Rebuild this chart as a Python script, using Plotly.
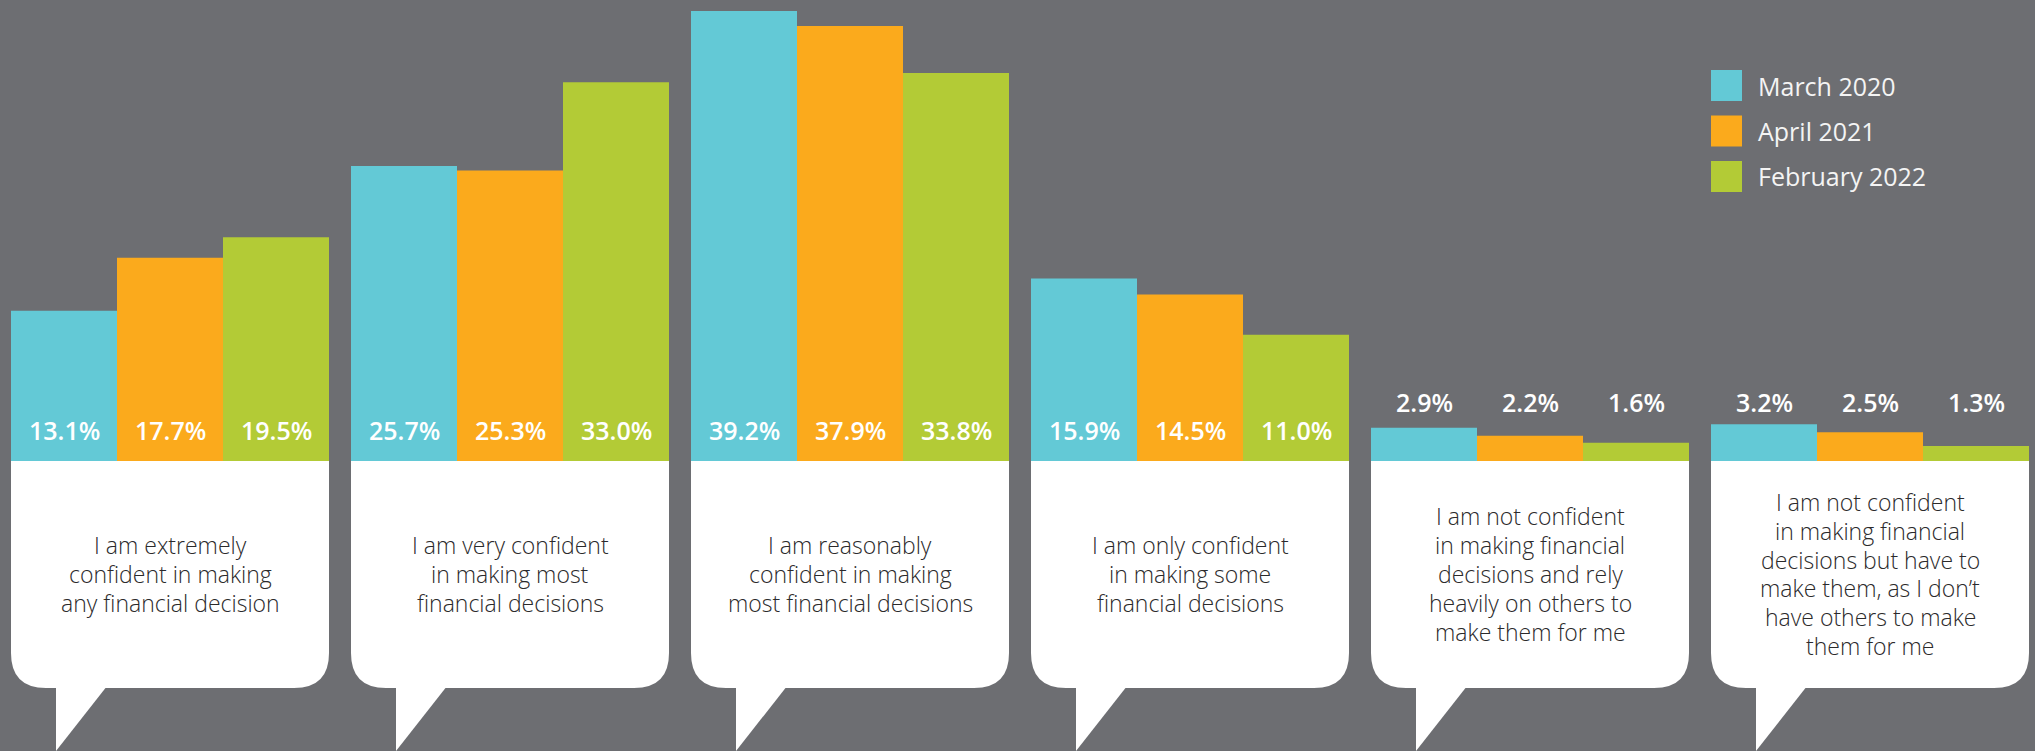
import plotly.graph_objects as go

# Survey responses: confidence in making financial decisions
categories = [
    "I am extremely<br>confident in making<br>any financial decision",
    "I am very confident<br>in making most<br>financial decisions",
    "I am reasonably<br>confident in making<br>most financial decisions",
    "I am only confident<br>in making some<br>financial decisions",
    "I am not confident<br>in making financial<br>decisions and rely<br>heavily on others to<br>make them for me",
    "I am not confident<br>in making financial<br>decisions but have to<br>make them, as I don\u2019t<br>have others to make<br>them for me",
]
series_names = ["March 2020", "April 2021", "February 2022"]
march_2020 = [13.1, 25.7, 39.2, 15.9, 2.9, 3.2]
april_2021 = [17.7, 25.3, 37.9, 14.5, 2.2, 2.5]
february_2022 = [19.5, 33.0, 33.8, 11.0, 1.6, 1.3]
series_values = [march_2020, april_2021, february_2022]

colors = ["#63c9d6", "#fbaa1c", "#b3cb36"]
BG = "#6d6e72"
W, H = 2035, 751
GROUP_PX = 340.0          # horizontal pitch of one category
BAR_GAP = 22.0 / GROUP_PX
BAR_W = (1 - BAR_GAP) / 3
X_RANGE = [-0.5, -0.5 + W / GROUP_PX]
Y_RANGE = [-25.26, 40.16]
PX_PER_Y = H / (Y_RANGE[1] - Y_RANGE[0])

def px_y(px):
    """Convert a pixel height to y-axis units."""
    return px / PX_PER_Y

def px_x(px):
    return px / GROUP_PX

FONT = "Open Sans"
LINE_PX = 28.8
idx = list(range(len(categories)))

fig = go.Figure()
for name, vals, col in zip(series_names, series_values, colors):
    fig.add_trace(go.Bar(
        x=idx, y=vals, name=name, marker=dict(color=col, line=dict(width=0)),
        showlegend=False, hoverinfo="skip",
    ))

shapes = []
annotations = []

# Speech bubbles under each group
half = (1 - BAR_GAP) / 2
bottom = -px_y(227)
rx, ry = px_x(35), px_y(35)
for i, label in enumerate(categories):
    l, r = i - half, i + half
    path = (f"M {l},0 L {r},0 L {r},{bottom + ry} "
            f"Q {r},{bottom} {r - rx},{bottom} "
            f"L {l + rx},{bottom} Q {l},{bottom} {l},{bottom + ry} Z")
    shapes.append(dict(type="path", path=path, xref="x", yref="y",
                       fillcolor="white", line=dict(width=0), layer="below"))
    t0, t1 = l + px_x(45), l + px_x(99)
    tail = f"M {t0},{bottom + 0.5} L {t1},{bottom + 0.5} L {t0},{Y_RANGE[0]} Z"
    shapes.append(dict(type="path", path=tail, xref="x", yref="y",
                       fillcolor="white", line=dict(width=0), layer="below"))
    lines = label.split("<br>")
    n = len(lines)
    for k, line in enumerate(lines):
        centre_px = 113 + (k - (n - 1) / 2) * LINE_PX
        annotations.append(dict(
            x=i, y=-px_y(centre_px), xref="x", yref="y", text=line,
            showarrow=False, xanchor="center", yanchor="middle",
            font=dict(family=FONT, size=23, color="#2b2a2b", weight=300),
        ))

# Value labels: inside the bar near its base, or above short bars
for s, (vals, col) in enumerate(zip(series_values, colors)):
    offset = (s - 1) * BAR_W
    for i, v in enumerate(vals):
        y = px_y(31) if v > 8 else px_y(59)
        annotations.append(dict(
            x=i + offset, y=y, xref="x", yref="y", text=f"{v:.1f}%",
            showarrow=False, xanchor="center", yanchor="middle",
            font=dict(family=FONT, size=25, color="white", weight=600),
        ))

# Legend
for k, (name, col) in enumerate(zip(series_names, colors)):
    top = 70 + 45.5 * k
    shapes.append(dict(type="rect", xref="paper", yref="paper",
                       x0=1711 / W, x1=1742 / W,
                       y0=1 - (top + 31) / H, y1=1 - top / H,
                       fillcolor=col, line=dict(width=0)))
    annotations.append(dict(
        x=1756 / W, y=1 - (top + 15.5) / H, xref="paper", yref="paper",
        text=name, showarrow=False, xanchor="left", yanchor="middle",
        font=dict(family=FONT, size=25, color="#f4f4f4"),
    ))

fig.update_layout(
    width=W, height=H, margin=dict(l=0, r=0, t=0, b=0),
    paper_bgcolor=BG, plot_bgcolor=BG,
    barmode="group", bargap=BAR_GAP, bargroupgap=0,
    xaxis=dict(range=X_RANGE, visible=False, fixedrange=True),
    yaxis=dict(range=Y_RANGE, visible=False, fixedrange=True),
    shapes=shapes, annotations=annotations,
)

fig.write_html("out.html")
